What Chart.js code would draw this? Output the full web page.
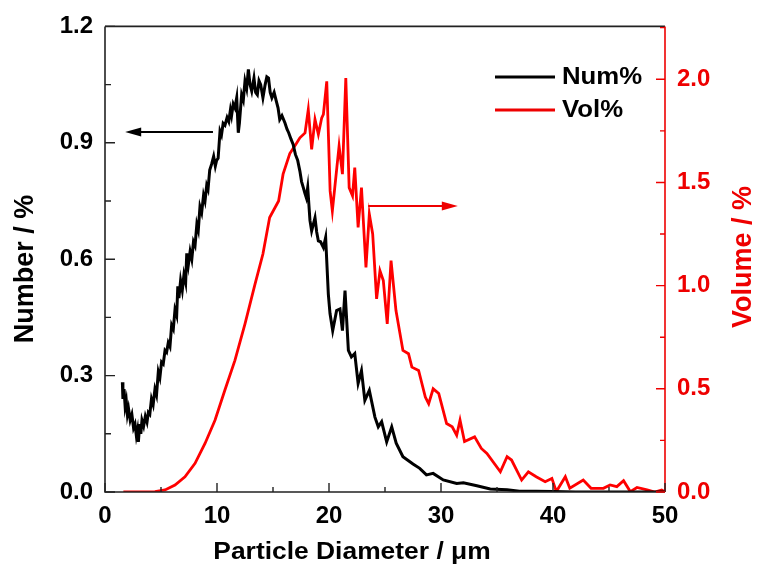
<!DOCTYPE html>
<html>
<head>
<meta charset="utf-8">
<script src="https://cdn.jsdelivr.net/npm/chart.js@4.4.1/dist/chart.umd.min.js"></script>
<style>
html,body{margin:0;padding:0;background:#fff;}
canvas{display:block;}
</style>
</head>
<body>
<canvas id="c" width="760" height="565"></canvas>
<script>
// Number distribution (left axis, %)
const numX = [1.55,1.6,1.7,1.8,1.9,2.0,2.1,2.25,2.4,2.55,2.68,2.8,2.9,2.98,3.1,3.2,3.3,3.45,3.6,3.75,3.87,4.0,4.15,4.3,4.46,4.6,4.76,4.9,5.05,5.2,5.36,5.5,5.65,5.8,5.95,6.1,6.25,6.4,6.5,6.6,6.75,6.9,7.05,7.2,7.3,7.44,7.6,7.75,7.9,8.04,8.2,8.33,8.48,8.63,8.8,8.93,9.08,9.2,9.35,9.52,9.7,9.85,9.97,10.1,10.27,10.4,10.55,10.71,10.9,11.05,11.2,11.3,11.45,11.6,11.76,11.9,12.0,12.2,12.35,12.5,12.65,12.8,12.95,13.1,13.3,13.45,13.6,13.75,13.9,14.1,14.3,14.45,14.6,14.75,14.9,15.1,15.3,15.45,15.6,15.8,16.07,16.25,16.4,16.6,16.8,17.0,17.2,17.4,17.55,17.7,17.85,17.97,18.1,18.3,18.45,18.6,18.75,18.9,19.05,19.25,19.5,19.7,19.94,20.09,20.33,20.68,20.98,21.2,21.43,21.73,22.0,22.3,22.6,22.9,23.2,23.6,24.1,24.4,24.7,25.15,25.6,26.0,26.6,27.5,28.1,28.7,29.3,30.2,31.4,32.0,33.2,34.4,35.9,37.0,38.5,40,42,45,48,50];
const numY = [0.283,0.24,0.265,0.22,0.235,0.2,0.215,0.185,0.2,0.165,0.175,0.145,0.16,0.129,0.175,0.15,0.185,0.17,0.195,0.18,0.205,0.2,0.24,0.225,0.265,0.25,0.31,0.295,0.335,0.33,0.365,0.36,0.385,0.375,0.43,0.42,0.47,0.455,0.53,0.5,0.545,0.52,0.56,0.54,0.615,0.585,0.62,0.6,0.645,0.635,0.69,0.675,0.735,0.72,0.765,0.75,0.79,0.78,0.83,0.845,0.865,0.84,0.855,0.86,0.93,0.92,0.95,0.945,0.965,0.955,0.985,0.97,1.0,0.99,1.016,0.926,0.95,1.024,1.01,1.059,1.04,1.089,1.05,1.033,1.067,1.03,1.024,1.06,1.05,1.016,1.05,1.07,1.067,1.03,1.016,1.03,1.007,0.99,0.96,0.97,0.951,0.935,0.926,0.91,0.896,0.87,0.855,0.827,0.8,0.785,0.77,0.759,0.785,0.7,0.673,0.69,0.707,0.67,0.647,0.645,0.63,0.656,0.51,0.46,0.416,0.468,0.472,0.416,0.519,0.365,0.348,0.357,0.28,0.313,0.236,0.262,0.193,0.168,0.181,0.129,0.168,0.126,0.091,0.072,0.061,0.044,0.048,0.031,0.022,0.024,0.016,0.008,0.006,0.002,0.002,0.001,0.0,0.0,0.0,0.0];
// Volume distribution (right axis, %)
const volX = [1.64,3.0,4.46,5.36,6.25,7.14,8.04,8.93,9.82,10.7,11.6,12.5,13.4,14.1,14.7,15.5,15.9,16.5,17.1,17.4,17.86,18.15,18.45,18.75,19.05,19.35,19.5,19.8,20.1,20.3,20.7,20.9,21.2,21.5,21.8,22.1,22.3,22.6,22.9,23.3,23.6,23.9,24.25,24.55,24.85,25.2,25.54,25.98,26.6,27.1,27.4,28.0,28.6,28.9,29.3,29.8,30.5,31.0,31.4,31.7,32.1,33.0,33.6,34.1,35.3,35.9,36.3,37.2,37.8,38.5,39.3,39.9,40.3,41.1,41.5,42.7,43.4,44.5,45.1,45.7,46.3,46.9,47.5,48.4,49.1,49.7,50];
const volY = [0.0,0.0,0.002,0.01,0.034,0.074,0.139,0.235,0.348,0.493,0.638,0.815,1.008,1.153,1.330,1.41,1.54,1.64,1.69,1.716,1.74,1.853,1.66,1.805,1.733,1.813,1.83,1.99,1.459,1.362,1.572,1.676,1.54,2.006,1.475,1.435,1.572,1.282,1.475,1.088,1.346,1.25,0.936,1.072,1.024,0.815,1.121,0.879,0.686,0.67,0.605,0.589,0.46,0.428,0.5,0.477,0.332,0.316,0.275,0.348,0.245,0.267,0.211,0.187,0.098,0.171,0.155,0.058,0.098,0.074,0.05,0.066,0.002,0.074,0.018,0.058,0.018,0.018,0.034,0.026,0.055,0.002,0.022,0.01,0.0,0.01,0.0];
// Axis settings
const xTicks = [0,10,20,30,40,50];
const yLeftMax = 1.2, yLeftStep = 0.3;
const yRightMax = 2.256, yRightStep = 0.5;
const legendLabels = ['Num%','Vol%'];
const xTitle = 'Particle Diameter / \u03bcm';
const yLeftTitle = 'Number / %';
const yRightTitle = 'Volume / %';
// arrows in data units: [xFrom, xTo, y]
const numArrow = [9.64, 1.8, 0.928];
const volArrow = [23.5, 31.5, 1.386];

const RED = '#ee0000';
const FONT = 'Liberation Sans, Arial, sans-serif';

const numData = numX.map((x,i)=>({x, y:numY[i]}));
const volData = volX.map((x,i)=>({x, y:volY[i]}));

function stretchText(ctx, text, x, y, sx){
  ctx.save();
  ctx.translate(x, y);
  ctx.scale(sx, 1);
  ctx.fillText(text, 0, 0);
  ctx.restore();
}

const decor = {
  id:'decor',
  afterDraw(chart){
    const ctx = chart.ctx, a = chart.chartArea;
    const sx = chart.scales.x, sy = chart.scales.y, sy2 = chart.scales.y2;
    ctx.save();
    // frame
    ctx.lineWidth = 1.6;
    ctx.strokeStyle = '#222';
    ctx.beginPath();
    ctx.moveTo(a.left, a.top); ctx.lineTo(a.right, a.top);
    ctx.moveTo(a.left, a.top); ctx.lineTo(a.left, a.bottom); ctx.lineTo(a.right, a.bottom);
    ctx.stroke();
    ctx.strokeStyle = RED;
    ctx.beginPath(); ctx.moveTo(a.right, a.top); ctx.lineTo(a.right, a.bottom); ctx.stroke();
    // inward ticks
    ctx.lineWidth = 1.4;
    ctx.strokeStyle = '#222';
    ctx.beginPath();
    for (let v=0; v<=50.001; v+=5){
      const p = sx.getPixelForValue(v); const L = (Math.round(v)%10===0)?9:5;
      ctx.moveTo(p, a.bottom); ctx.lineTo(p, a.bottom-L);
    }
    for (let v=0; v<=yLeftMax+1e-6; v+=yLeftStep/2){
      const p = sy.getPixelForValue(v); const k = Math.round(v/(yLeftStep/2));
      const L = (k%2===0)?10:6;
      ctx.moveTo(a.left, p); ctx.lineTo(a.left+L, p);
    }
    ctx.stroke();
    ctx.strokeStyle = RED;
    ctx.beginPath();
    for (let v=0; v<=yRightMax+1e-6; v+=yRightStep/2){
      const p = sy2.getPixelForValue(v); const k = Math.round(v/(yRightStep/2));
      const L = (k%2===0)?9:5;
      ctx.moveTo(a.right, p); ctx.lineTo(a.right-L, p);
    }
    ctx.stroke();
    // arrows
    function arrow(x1,x2,y,scaleY,color){
      const px1 = sx.getPixelForValue(x1), px2 = sx.getPixelForValue(x2), py = scaleY.getPixelForValue(y);
      const dir = Math.sign(px2-px1);
      ctx.strokeStyle = color; ctx.fillStyle = color; ctx.lineWidth = 2;
      ctx.beginPath(); ctx.moveTo(px1, py); ctx.lineTo(px2 - dir*10, py); ctx.stroke();
      ctx.beginPath(); ctx.moveTo(px2, py); ctx.lineTo(px2-dir*16, py-4.5); ctx.lineTo(px2-dir*16, py+4.5); ctx.closePath(); ctx.fill();
    }
    arrow(numArrow[0], numArrow[1], numArrow[2], sy, '#000');
    arrow(volArrow[0], volArrow[1], volArrow[2], sy2, RED);
    // legend
    const colors = ['#000', RED];
    ctx.font = 'bold 23px ' + FONT;
    ctx.textBaseline = 'middle'; ctx.textAlign = 'left';
    legendLabels.forEach((t,i)=>{
      const y = 77 + i*33;
      ctx.strokeStyle = colors[i]; ctx.lineWidth = 3;
      ctx.beginPath(); ctx.moveTo(495, y); ctx.lineTo(555, y); ctx.stroke();
      ctx.fillStyle = '#000';
      stretchText(ctx, t, 562, y+1, 1.12);
    });
    // axis titles
    ctx.fillStyle = '#000';
    ctx.textAlign = 'center';
    ctx.font = 'bold 24px ' + FONT;
    stretchText(ctx, xTitle, 352, 552, 1.1);
    ctx.save();
    ctx.translate(26, 269); ctx.rotate(-Math.PI/2);
    ctx.font = 'bold 27px ' + FONT;
    ctx.fillText(yLeftTitle, 0, 0);
    ctx.restore();
    ctx.save();
    ctx.translate(744, 257); ctx.rotate(-Math.PI/2);
    ctx.fillStyle = RED;
    ctx.font = 'bold 27px ' + FONT;
    ctx.fillText(yRightTitle, 0, 0);
    ctx.restore();
    ctx.restore();
  }
};

const tickFont = {family: FONT, size: 24, weight: 'bold'};

new Chart(document.getElementById('c'), {
  type: 'line',
  data: {
    datasets: [
      {label: legendLabels[0], data: numData, yAxisID: 'y', borderColor: '#000', borderWidth: 3, pointRadius: 0, tension: 0, fill: false},
      {label: legendLabels[1], data: volData, yAxisID: 'y2', borderColor: '#ff0000', borderWidth: 2.8, pointRadius: 0, tension: 0, fill: false}
    ]
  },
  options: {
    responsive: false,
    animation: false,
    events: [],
    layout: {padding: {top: 25, left: 0, right: 0, bottom: 0}},
    plugins: {legend: {display: false}, tooltip: {enabled: false}, title: {display: false}},
    scales: {
      x: {
        type: 'linear', position: 'bottom', min: 0, max: 50,
        afterBuildTicks: s => { s.ticks = xTicks.map(v => ({value: v})); },
        ticks: {font: tickFont, color: '#000', padding: 10, maxRotation: 0, autoSkip: false},
        grid: {display: false, drawTicks: false},
        border: {display: false},
        afterFit: s => { s.height = 73; }
      },
      y: {
        type: 'linear', position: 'left', min: 0, max: yLeftMax,
        ticks: {stepSize: yLeftStep, font: tickFont, color: '#000', padding: 12, callback: v => v.toFixed(1)},
        grid: {display: false, drawTicks: false},
        border: {display: false},
        afterFit: s => { s.width = 105; }
      },
      y2: {
        type: 'linear', position: 'right', min: 0, max: yRightMax,
        ticks: {stepSize: yRightStep, includeBounds: false, font: tickFont, color: RED, padding: 12, callback: v => v.toFixed(1)},
        grid: {display: false, drawTicks: false},
        border: {display: false},
        afterFit: s => { s.width = 95; }
      }
    }
  },
  plugins: [decor]
});
</script>
</body>
</html>
